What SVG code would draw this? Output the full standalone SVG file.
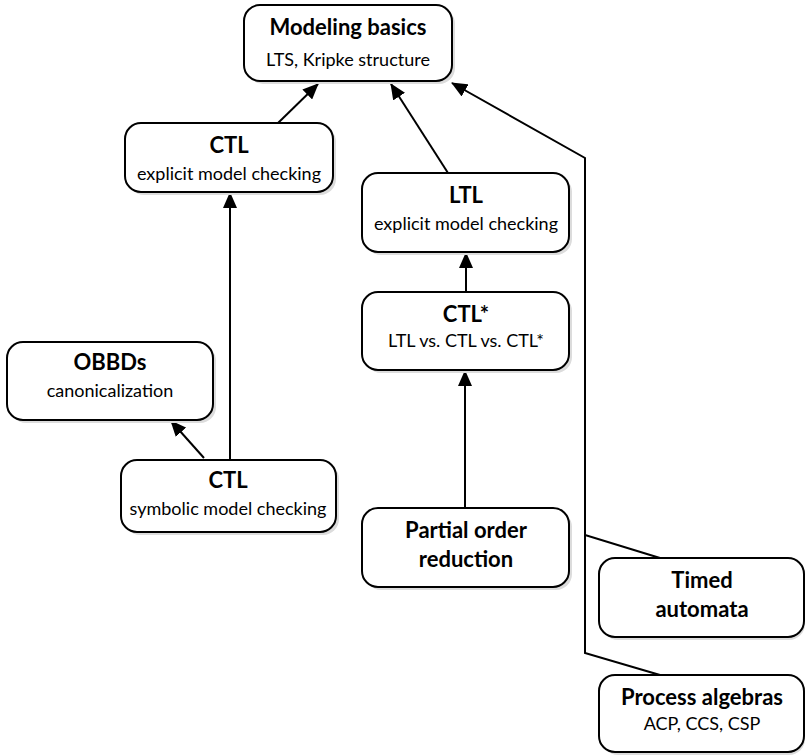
<svg xmlns="http://www.w3.org/2000/svg" width="806" height="756" viewBox="0 0 806 756">
<defs>
<marker id="ah" markerWidth="16" markerHeight="14" refX="15" refY="7" orient="auto" markerUnits="userSpaceOnUse">
<path d="M0,0 L16,7 L0,14 Z" fill="#000"/>
</marker>
</defs>
<style>
.box{fill:#fff;stroke:#000;stroke-width:2}
.sh{fill:#dcdcdc}
.t{font-family:Lato,"Liberation Sans",sans-serif;font-weight:bold;font-size:22px;text-anchor:middle;fill:#000}
.s{font-family:Lato,"Liberation Sans",sans-serif;font-size:18px;text-anchor:middle;fill:#000}
.c{fill:none;stroke:#000;stroke-width:2}
</style>
<rect width="806" height="756" fill="#fff"/>
<g id="connectors">
<path class="c" d="M278,123 L318,84" marker-end="url(#ah)"/>
<path class="c" d="M448,173 L391,84" marker-end="url(#ah)"/>
<path class="c" d="M660,558 L585,535 L585,158 L452,83" marker-end="url(#ah)"/>
<path class="c" d="M660,675 L585,653 L585,535"/>
<path class="c" d="M230,460 L230,193" marker-end="url(#ah)"/>
<path class="c" d="M204,458 L171,421" marker-end="url(#ah)"/>
<path class="c" d="M466,292 L466,253" marker-end="url(#ah)"/>
<path class="c" d="M465,508 L465,371" marker-end="url(#ah)"/>
</g>
<g id="modeling">
<rect class="sh" x="247" y="8" width="208" height="76" rx="16"/>
<rect class="box" x="244" y="5" width="208" height="76" rx="16"/>
<text class="t" x="348" y="35">Modeling basics</text>
<text class="s" x="348" y="66">LTS, Kripke structure</text>
</g>
<g id="ctl-explicit">
<rect class="sh" x="128" y="126" width="208" height="69" rx="16"/>
<rect class="box" x="125" y="123" width="208" height="69" rx="16"/>
<text class="t" x="229" y="153">CTL</text>
<text class="s" x="229" y="180">explicit model checking</text>
</g>
<g id="ltl">
<rect class="sh" x="365" y="176" width="207" height="79" rx="16"/>
<rect class="box" x="362" y="173" width="207" height="79" rx="16"/>
<text class="t" x="466" y="203">LTL</text>
<text class="s" x="466" y="230">explicit model checking</text>
</g>
<g id="ctlstar">
<rect class="sh" x="365" y="295" width="207" height="78" rx="16"/>
<rect class="box" x="362" y="292" width="207" height="78" rx="16"/>
<text class="t" x="466" y="322">CTL*</text>
<text class="s" x="466" y="347">LTL vs. CTL vs. CTL*</text>
</g>
<g id="obbds">
<rect class="sh" x="10" y="345" width="206" height="78" rx="16"/>
<rect class="box" x="7" y="342" width="206" height="78" rx="16"/>
<text class="t" x="110" y="370">OBBDs</text>
<text class="s" x="110" y="397">canonicalization</text>
</g>
<g id="ctl-symbolic">
<rect class="sh" x="124" y="463" width="215" height="72" rx="16"/>
<rect class="box" x="121" y="460" width="215" height="72" rx="16"/>
<text class="t" x="228" y="488">CTL</text>
<text class="s" x="228" y="515">symbolic model checking</text>
</g>
<g id="partial-order">
<rect class="sh" x="365" y="511" width="207" height="79" rx="16"/>
<rect class="box" x="362" y="508" width="207" height="79" rx="16"/>
<text class="t" x="466" y="538">Partial order</text>
<text class="t" x="466" y="567">reduction</text>
</g>
<g id="timed">
<rect class="sh" x="602" y="561" width="203" height="79" rx="16"/>
<rect class="box" x="599" y="558" width="205" height="79" rx="16"/>
<text class="t" x="702" y="588">Timed</text>
<text class="t" x="702" y="617">automata</text>
</g>
<g id="process">
<rect class="sh" x="602" y="678" width="203" height="77" rx="16"/>
<rect class="box" x="599" y="675" width="205" height="77" rx="16"/>
<text class="t" x="702" y="705">Process algebras</text>
<text class="s" x="702" y="730">ACP, CCS, CSP</text>
</g>
</svg>
